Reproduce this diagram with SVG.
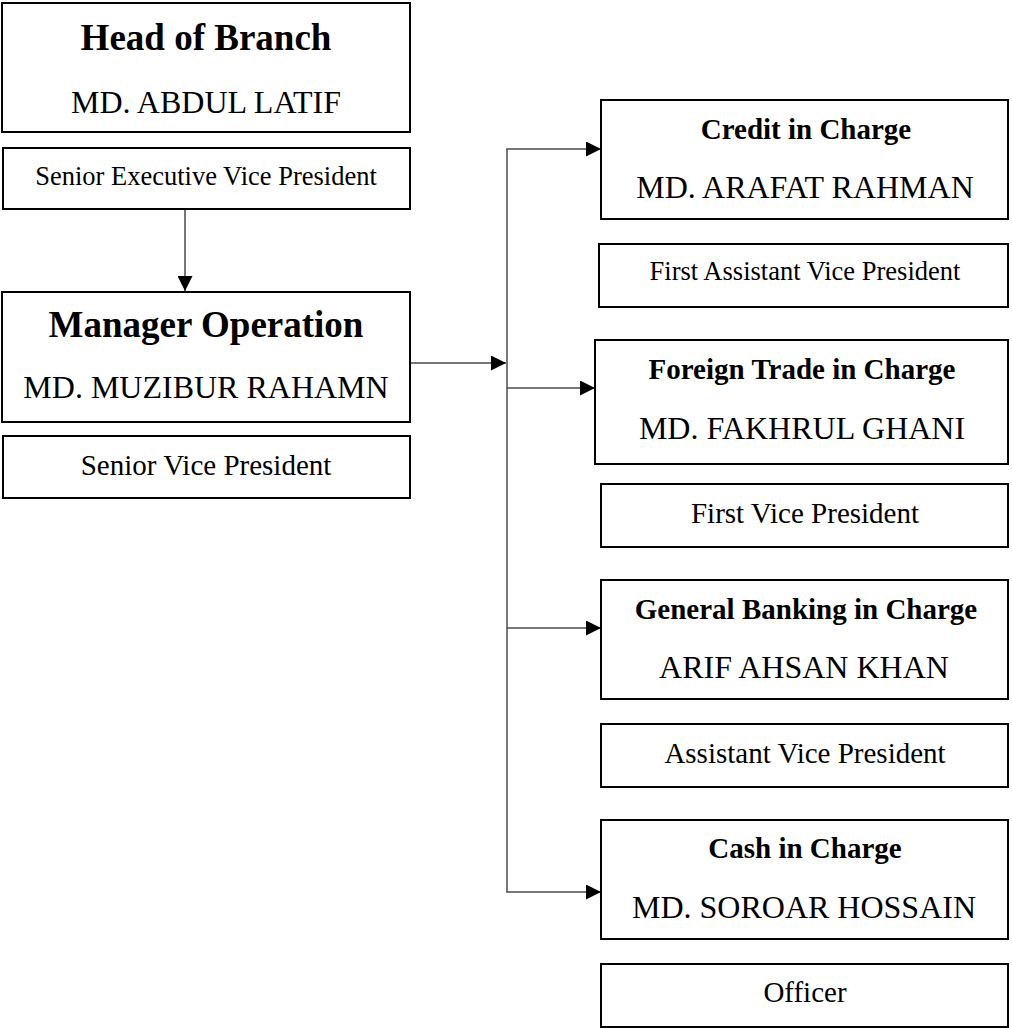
<svg xmlns="http://www.w3.org/2000/svg" width="1012" height="1028" viewBox="0 0 1012 1028">
  <style>
    .box { fill: #ffffff; stroke: #000000; stroke-width: 2; }
    .t { font-family: "Liberation Serif", "Times New Roman", serif; fill: #000000; text-anchor: middle; }
    .title-l { font-size: 37px; font-weight: bold; }
    .title-r { font-size: 29px; font-weight: bold; }
    .name { font-size: 32px; }
    .rank { font-size: 29px; }
    .rank-s { font-size: 26.5px; }
    .conn { fill: none; stroke: #4a4a4a; stroke-width: 1.5; }
  </style>
  <defs>
    <marker id="arrow" viewBox="0 0 10 10" refX="10" refY="5" markerWidth="15" markerHeight="15" markerUnits="userSpaceOnUse" orient="auto">
      <path d="M0,0 L10,5 L0,10 z" fill="#000000"/>
    </marker>
  </defs>
  <rect width="1012" height="1028" fill="#ffffff"/>

  <g id="connectors">
    <line class="conn" x1="185" y1="210" x2="185" y2="291" marker-end="url(#arrow)"/>
    <line class="conn" x1="411" y1="363" x2="506" y2="363" marker-end="url(#arrow)"/>
    <line class="conn" x1="507" y1="149" x2="507" y2="892"/>
    <line class="conn" x1="506.25" y1="149" x2="601" y2="149" marker-end="url(#arrow)"/>
    <line class="conn" x1="507" y1="388" x2="595" y2="388" marker-end="url(#arrow)"/>
    <line class="conn" x1="507" y1="628" x2="601" y2="628" marker-end="url(#arrow)"/>
    <line class="conn" x1="506.25" y1="892" x2="601" y2="892" marker-end="url(#arrow)"/>
  </g>

  <g id="head-of-branch">
    <rect class="box" x="2" y="3" width="408" height="129"/>
    <text class="t title-l" x="206" y="50">Head of Branch</text>
    <text class="t name" x="206" y="113">MD. ABDUL LATIF</text>
  </g>
  <g id="head-rank">
    <rect class="box" x="3" y="148" width="407" height="61"/>
    <text class="t rank-s" x="206" y="185">Senior Executive Vice President</text>
  </g>

  <g id="manager-operation">
    <rect class="box" x="2" y="292" width="408" height="130"/>
    <text class="t title-l" x="206" y="337">Manager Operation</text>
    <text class="t name" x="206" y="398">MD. MUZIBUR RAHAMN</text>
  </g>
  <g id="manager-rank">
    <rect class="box" x="3" y="436" width="407" height="62"/>
    <text class="t rank" x="206" y="475">Senior Vice President</text>
  </g>

  <g id="credit">
    <rect class="box" x="601" y="100" width="407" height="119"/>
    <text class="t title-r" x="806" y="139">Credit in Charge</text>
    <text class="t name" x="805" y="198">MD. ARAFAT RAHMAN</text>
  </g>
  <g id="credit-rank">
    <rect class="box" x="599" y="244" width="409" height="63"/>
    <text class="t rank-s" x="805" y="280">First Assistant Vice President</text>
  </g>

  <g id="foreign-trade">
    <rect class="box" x="595" y="340" width="413" height="124"/>
    <text class="t title-r" x="802" y="379">Foreign Trade in Charge</text>
    <text class="t name" x="802" y="439">MD. FAKHRUL GHANI</text>
  </g>
  <g id="foreign-rank">
    <rect class="box" x="601" y="484" width="407" height="63"/>
    <text class="t rank" x="805" y="523">First Vice President</text>
  </g>

  <g id="general-banking">
    <rect class="box" x="601" y="580" width="407" height="119"/>
    <text class="t title-r" x="806" y="619">General Banking in Charge</text>
    <text class="t name" x="804" y="678">ARIF AHSAN KHAN</text>
  </g>
  <g id="general-rank">
    <rect class="box" x="601" y="724" width="407" height="63"/>
    <text class="t rank" x="805" y="763">Assistant Vice President</text>
  </g>

  <g id="cash">
    <rect class="box" x="601" y="820" width="407" height="119"/>
    <text class="t title-r" x="805" y="858">Cash in Charge</text>
    <text class="t name" x="804" y="918">MD. SOROAR HOSSAIN</text>
  </g>
  <g id="cash-rank">
    <rect class="box" x="601" y="964" width="407" height="63"/>
    <text class="t rank" x="805" y="1002">Officer</text>
  </g>
</svg>
